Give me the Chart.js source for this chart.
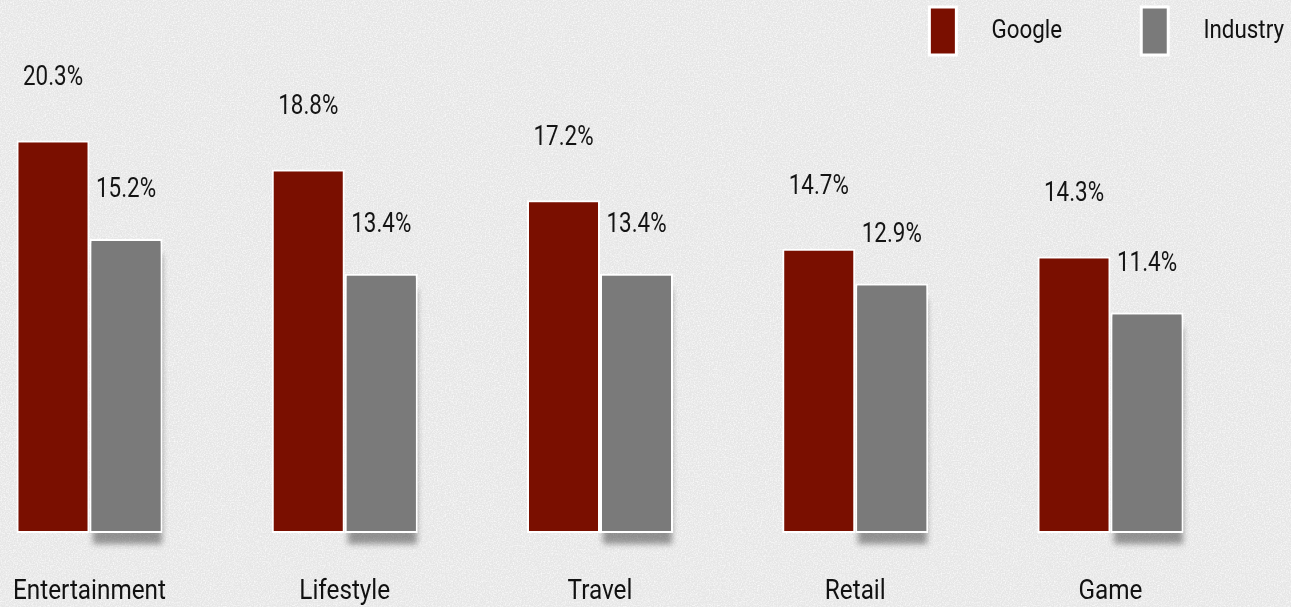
<!DOCTYPE html>
<html><head><meta charset="utf-8">
<script src="https://cdn.jsdelivr.net/npm/chart.js@4.4.1/dist/chart.umd.min.js"></script>
<style>
html,body{margin:0;padding:0;overflow:hidden;}
body{background-color:#e6e6e6;background-image:url("data:image/svg+xml,%3Csvg xmlns='http://www.w3.org/2000/svg' width='400' height='400'%3E%3Cfilter id='n'%3E%3CfeTurbulence type='fractalNoise' baseFrequency='0.75' numOctaves='3' stitchTiles='stitch'/%3E%3CfeColorMatrix type='matrix' values='0 0 0 0 1  0 0 0 0 1  0 0 0 0 1  0 0 0 1.6 -0.62'/%3E%3C/filter%3E%3Crect width='100%25' height='100%25' filter='url(%23n)'/%3E%3C/svg%3E");}
#wrap{width:1291px;height:607px;position:relative;}
</style></head><body>
<div id="wrap"><canvas id="c" width="1291" height="607"></canvas></div>
<script>
const categories = ['Entertainment', 'Lifestyle', 'Travel', 'Retail', 'Game'];
const seriesNames = ['Google', 'Industry'];
const googleValues = [20.3, 18.8, 17.2, 14.7, 14.3];
const industryValues = [15.2, 13.4, 13.4, 12.9, 11.4];
const googleLabels = ['20.3%', '18.8%', '17.2%', '14.7%', '14.3%'];
const industryLabels = ['15.2%', '13.4%', '13.4%', '12.9%', '11.4%'];

const canvas = document.getElementById('c');
const ctx = canvas.getContext('2d');

// narrow rendering of the text (the reference uses a condensed face)
const SCALE_BY_SIZE = { '27px': 0.90, '26px': 0.86, '28px': 0.80 };
function curScale() {
  const m = /(\d+(?:\.\d+)?px)/.exec(ctx.font);
  return (m && SCALE_BY_SIZE[m[1]]) || 1;
}
const origFill = ctx.fillText.bind(ctx);
const origMeasure = ctx.measureText.bind(ctx);
ctx.fillText = function (t, x, y, mw) {
  const s = curScale();
  ctx.save();
  ctx.translate(x, y);
  ctx.scale(s, 1);
  if (mw === undefined) origFill(t, 0, 0); else origFill(t, 0, 0, mw / s);
  ctx.restore();
};
ctx.measureText = function (t) {
  const s = curScale();
  const m = origMeasure(t);
  return {
    width: m.width * s,
    actualBoundingBoxAscent: m.actualBoundingBoxAscent,
    actualBoundingBoxDescent: m.actualBoundingBoxDescent,
    actualBoundingBoxLeft: m.actualBoundingBoxLeft * s,
    actualBoundingBoxRight: m.actualBoundingBoxRight * s,
    fontBoundingBoxAscent: m.fontBoundingBoxAscent,
    fontBoundingBoxDescent: m.fontBoundingBoxDescent
  };
};

const shadowPlugin = {
  id: 'barShadow',
  beforeDatasetsDraw(chart) {
    const c = chart.ctx;
    const meta = chart.getDatasetMeta(1);
    c.save();
    c.shadowColor = 'rgba(0,0,0,0.38)';
    c.shadowBlur = 6;
    c.shadowOffsetX = 1;
    c.shadowOffsetY = 11;
    c.fillStyle = '#7a7a7a';
    meta.data.forEach(bar => {
      const p = bar.getProps(['x', 'y', 'base', 'width'], true);
      c.fillRect(p.x - p.width / 2 + 2, p.y + 4, p.width - 4, p.base - p.y - 4);
    });
    c.restore();
  }
};

const labelPlugin = {
  id: 'valueLabels',
  afterDatasetsDraw(chart) {
    const c = chart.ctx;
    c.save();
    c.font = '400 28px Roboto';
    c.fillStyle = '#141414';
    c.textAlign = 'center';
    c.textBaseline = 'middle';
    chart.data.datasets.forEach((ds, i) => {
      const meta = chart.getDatasetMeta(i);
      meta.data.forEach((bar, j) => {
        c.fillText(ds.valueLabels[j], bar.x, bar.y - ds.labelOffset);
      });
    });
    c.restore();
  }
};

const hiddenAxis = (w, pos) => ({
  position: pos,
  display: true,
  min: 0,
  max: 24.2,
  ticks: { display: false },
  grid: { display: false, drawTicks: false },
  border: { display: false },
  afterFit(s) { s.width = w; }
});

new Chart(ctx, {
  type: 'bar',
  data: {
    labels: categories,
    datasets: [
      {
        label: seriesNames[0],
        data: googleValues,
        valueLabels: googleLabels,
        labelOffset: 62,
        backgroundColor: '#7a0f00',
        borderColor: '#ffffff',
        borderWidth: 2,
        borderSkipped: false,
        clip: false,
        yAxisID: 'y'
      },
      {
        label: seriesNames[1],
        data: industryValues,
        valueLabels: industryLabels,
        labelOffset: 49,
        backgroundColor: '#7a7a7a',
        borderColor: '#ffffff',
        borderWidth: 2,
        borderSkipped: false,
        clip: false,
        yAxisID: 'y'
      }
    ]
  },
  options: {
    responsive: false,
    animation: false,
    devicePixelRatio: 1,
    categoryPercentage: 0.572,
    barPercentage: 1.0,
    layout: { padding: 0 },
    plugins: {
      tooltip: { enabled: false },
      legend: {
        display: true,
        position: 'top',
        align: 'end',
        labels: {
          boxWidth: 27,
          boxHeight: 48,
          padding: 7,
          color: '#111111',
          font: { family: 'Roboto', size: 26, weight: '400' },
          generateLabels(chart) {
            const base = Chart.defaults.plugins.legend.labels.generateLabels(chart);
            return base.map((it, i) => {
              it.text = (i === 0 ? '    ' + it.text + '             ' : '    ' + it.text);
              it.lineWidth = 3;
              it.strokeStyle = '#ffffff';
              return it;
            });
          }
        }
      }
    },
    scales: {
      x: {
        type: 'category',
        offset: false,
        grid: { display: false, drawTicks: false },
        border: { display: false },
        ticks: {
          color: '#111111',
          padding: 43,
          font: { family: 'Roboto', size: 27, weight: '400' },
          maxRotation: 0,
          autoSkip: false
        },
        afterFit(s) { s.paddingLeft = 0; s.paddingRight = 0; s.height = 74; }
      },
      y: hiddenAxis(89.5, 'left'),
      y2: hiddenAxis(180.5, 'right')
    }
  },
  plugins: [shadowPlugin, labelPlugin]
});
</script>
</body></html>
